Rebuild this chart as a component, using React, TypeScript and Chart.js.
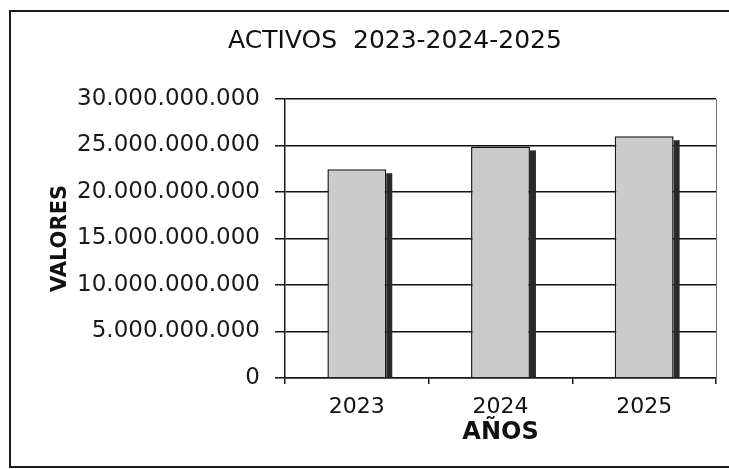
import React, { useEffect, useRef } from "react";
import { Chart, registerables } from "chart.js";

Chart.register(...registerables);

const categories = ["2023", "2024", "2025"];
const activos = [22450000000, 24900000000, 26000000000];
const yMin = 0;
const yMax = 30000000000;
const yStep = 5000000000;
const chartTitle = "ACTIVOS  2023-2024-2025";
const yTitle = "VALORES";
const xTitle = "AÑOS";

const FONT = "'DejaVu Sans', Verdana, sans-serif";

const fmt = (v: number) =>
  Math.round(v)
    .toString()
    .replace(/\B(?=(\d{3})+(?!\d))/g, ".");

const shadowPlugin = {
  id: "barShadow",
  afterDatasetsDraw(chart: any) {
    const ctx = chart.ctx;
    const meta = chart.getDatasetMeta(0);
    ctx.save();
    ctx.fillStyle = "#2a2a2a";
    meta.data.forEach((bar: any) => {
      const { x, y, base, width } = bar.getProps(["x", "y", "base", "width"], true);
      ctx.fillRect(x + width / 2, y + 4, 6, base - y - 4);
    });
    const a = chart.chartArea;
    ctx.strokeStyle = "#777";
    ctx.lineWidth = 1;
    ctx.beginPath();
    ctx.moveTo(a.right + 0.5, a.top);
    ctx.lineTo(a.right + 0.5, a.bottom);
    ctx.stroke();
    ctx.restore();
  },
};

export default function App() {
  const ref = useRef<HTMLCanvasElement | null>(null);

  useEffect(() => {
    if (!ref.current) return;
    const chart = new Chart(ref.current, {
      type: "bar",
      data: {
        labels: categories,
        datasets: [
          {
            data: activos,
            backgroundColor: "#cbcbcb",
            borderColor: "#1a1a1a",
            borderWidth: 1.5,
            categoryPercentage: 1,
            barPercentage: 0.41,
          },
        ],
      },
      options: {
        responsive: false,
        animation: false,
        devicePixelRatio: 1,
        layout: { padding: { left: 74, right: 13, top: 0, bottom: 0 } },
        plugins: {
          legend: { display: false },
          tooltip: { enabled: false },
          title: {
            display: true,
            text: chartTitle,
            color: "#111",
            font: { family: FONT, size: 25, weight: "normal" },
            padding: { top: 26, bottom: 43 },
          },
        },
        scales: {
          x: {
            afterFit: (s: any) => {
              s.height = 91;
            },
            grid: {
              display: true,
              drawOnChartArea: false,
              drawTicks: true,
              tickLength: 6,
              color: "#1a1a1a",
              lineWidth: 1.5,
              offset: true,
            },
            border: { color: "#1a1a1a", width: 1.5 },
            ticks: {
              color: "#111",
              padding: 10,
              font: { family: FONT, size: 22 },
            },
            title: {
              display: true,
              text: xTitle,
              color: "#111",
              font: { family: FONT, size: 24, weight: "bold" },
              padding: { top: 0, bottom: 21.6 },
            },
          },
          y: {
            min: yMin,
            max: yMax,
            afterFit: (s: any) => {
              s.width = 211;
            },
            ticks: {
              stepSize: yStep,
              color: "#1a1a1a",
              padding: 15,
              font: { family: FONT, size: 23 },
              callback: (v: any) => fmt(Number(v)),
            },
            grid: {
              color: "#111",
              lineWidth: 1.5,
              tickLength: 10,
            },
            border: { color: "#1a1a1a", width: 1.5 },
            title: {
              display: true,
              text: yTitle,
              color: "#111",
              font: { family: FONT, size: 21, weight: "bold" },
              padding: { top: -25.6, bottom: 0 },
            },
          },
        },
      },
      plugins: [shadowPlugin],
    });
    return () => chart.destroy();
  }, []);

  return (
    <div
      style={{
        position: "fixed",
        left: 0,
        top: 0,
        width: 729,
        height: 469,
        overflow: "hidden",
        background: "#fff",
      }}
    >
      <canvas
        ref={ref}
        width={729}
        height={469}
        style={{ position: "absolute", left: 0, top: 0, width: 729, height: 469 }}
      />
      <div
        style={{
          position: "absolute",
          left: 9,
          top: 10,
          width: 760,
          height: 454,
          border: "2px solid #1a1a1a",
          pointerEvents: "none",
        }}
      />
    </div>
  );
}
